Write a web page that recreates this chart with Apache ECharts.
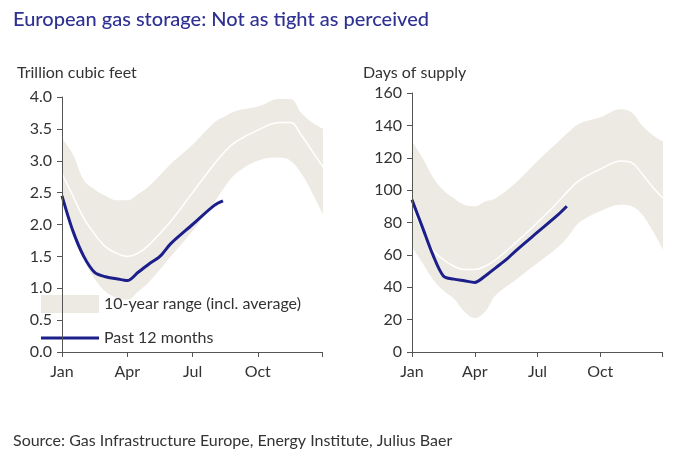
<!DOCTYPE html>
<html><head><meta charset="utf-8">
<script src="https://cdn.jsdelivr.net/npm/echarts@6/dist/echarts.min.js"></script>
<style>html,body{margin:0;padding:0;background:#fff}#c{width:682px;height:460px}</style>
</head><body><div id="c"></div>
<script>
const months = [0,0.5,1,1.5,2,2.5,3,3.5,4,5,6,7,7.5,8,9,10,10.5,11,11.5,12];
const tcfUpper = [3.35,3.1,2.7,2.55,2.45,2.38,2.38,2.48,2.6,2.95,3.25,3.6,3.7,3.78,3.85,3.97,3.97,3.75,3.6,3.5];
const tcfAvg   = [2.8,2.45,2.1,1.85,1.65,1.55,1.5,1.55,1.68,2.05,2.5,2.95,3.15,3.3,3.48,3.6,3.6,3.4,3.15,2.9];
const tcfLower = [2.45,1.9,1.45,1.15,0.95,0.85,0.82,0.95,1.1,1.5,1.9,2.35,2.6,2.8,3.0,3.05,3.0,2.8,2.5,2.15];
const pastMonths = [0,0.5,1,1.5,2,2.5,3,3.5,4,4.5,5,6,7,7.4];
const tcfPast  = [2.45,1.9,1.5,1.25,1.18,1.15,1.12,1.25,1.38,1.5,1.7,2.0,2.3,2.37];
const dayUpper = [130,120,108,100,95,91,90,93,95,105,118,130,136,141,145,150,148,140,134,130];
const dayAvg   = [90,75,63,57,53,51,51,53,57,68,80,93,100,106,113,118,117,110,102,95];
const dayLower = [65,55,45,38,33,25,21,25,35,45,55,65,72,80,87,91,90,85,75,63];
const dayPast  = [94,77,60,47,45,44,43,47,52,57,63,74,85,90];
const monthLabels = {0:'Jan',3:'Apr',6:'Jul',9:'Oct'};
const blue = '#1c1f8a', beige = '#eceae2', txt = '#333';
const font = 'Lato';
function pairs(xs, ys){ return xs.map((x,i)=>[x,ys[i]]); }
function xAxis(gi){ return {type:'value',gridIndex:gi,min:0,max:11.95,interval:3,z:10,
  axisLine:{lineStyle:{color:'#555'}},axisTick:{length:5,lineStyle:{color:'#555'}},splitLine:{show:false},
  axisLabel:{formatter:v=>monthLabels[v]||'',color:txt,fontSize:16,fontFamily:font,margin:12}}; }
function yAxis(gi,max,interval,fmt){ return {type:'value',gridIndex:gi,min:0,max:max,interval:interval,z:10,
  axisLine:{show:true,lineStyle:{color:'#555'}},axisTick:{show:true,length:5,lineStyle:{color:'#555'}},splitLine:{show:false},
  axisLabel:{formatter:fmt,color:txt,fontSize:16,fontFamily:font,margin:10}}; }
function band(gi,lower,upper,avg,past){
  return [
    {name:'10-year range (incl. average)',type:'line',xAxisIndex:gi,yAxisIndex:gi,data:pairs(months,upper),smooth:0.4,symbol:'none',lineStyle:{opacity:0},areaStyle:{color:beige,opacity:1},itemStyle:{color:beige},silent:true,z:1},
    {type:'line',xAxisIndex:gi,yAxisIndex:gi,data:pairs(months,lower),smooth:0.4,symbol:'none',lineStyle:{opacity:0},areaStyle:{color:'#fff',opacity:1},silent:true,z:2},
    {type:'line',xAxisIndex:gi,yAxisIndex:gi,data:pairs(months,avg),smooth:0.4,symbol:'none',lineStyle:{color:'#fff',width:1.5},silent:true,z:3},
    {name:'Past 12 months',type:'line',xAxisIndex:gi,yAxisIndex:gi,data:pairs(pastMonths,past),smooth:0.3,symbol:'none',lineStyle:{color:blue,width:3},itemStyle:{color:blue},z:5}
  ];
}
const chart = echarts.init(document.getElementById('c'));
chart.setOption({
  backgroundColor:'#fff', animation:false,
  title:[
    {text:'European gas storage: Not as tight as perceived',left:8,top:5,textStyle:{color:'#2e3192',fontSize:20,fontWeight:500,fontFamily:font}},
    {text:'Trillion cubic feet',left:12,top:60,textStyle:{color:txt,fontSize:16,fontWeight:'normal',fontFamily:font}},
    {text:'Days of supply',left:358,top:60,textStyle:{color:txt,fontSize:16,fontWeight:'normal',fontFamily:font}},
    {text:'Source: Gas Infrastructure Europe, Energy Institute, Julius Baer',left:8,top:428,textStyle:{color:txt,fontSize:16,fontWeight:'normal',fontFamily:font}}
  ],
  grid:[{left:62,top:97,width:260,height:255},{left:412,top:93,width:250,height:259}],
  xAxis:[xAxis(0),xAxis(1)],
  yAxis:[yAxis(0,4,0.5,v=>v.toFixed(1)),yAxis(1,160,20,v=>String(v))],
  legend:[
    {data:[{name:'10-year range (incl. average)',icon:'rect'}],left:36,top:290,itemWidth:58,itemHeight:18,itemGap:4,
     textStyle:{color:txt,fontSize:16,fontFamily:font}},
    {data:[{name:'Past 12 months',icon:'rect'}],left:36,top:325,itemWidth:58,itemHeight:3,
     textStyle:{color:txt,fontSize:16,fontFamily:font}}
  ],
  series:[...band(0,tcfLower,tcfUpper,tcfAvg,tcfPast),...band(1,dayLower,dayUpper,dayAvg,dayPast)]
});
</script></body></html>
